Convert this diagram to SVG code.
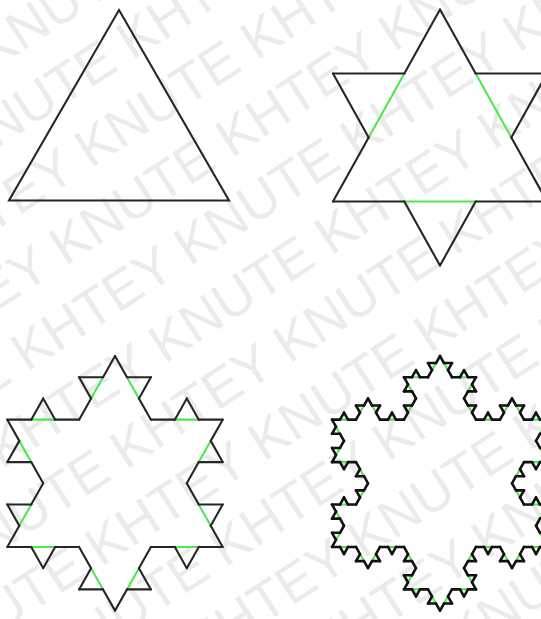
<svg xmlns="http://www.w3.org/2000/svg" xmlns:xlink="http://www.w3.org/1999/xlink" width="541" height="619" viewBox="0 0 541 619">
<style>
.wm{font-family:"Liberation Sans",Arial,sans-serif;font-size:54px;fill:#ebebeb;}
.blk{stroke:#262626;stroke-width:2.1;fill:none;stroke-linecap:round;vector-effect:non-scaling-stroke;}
.blk3{stroke:#121212;stroke-width:2.6;fill:none;stroke-linecap:round;vector-effect:non-scaling-stroke;}
.grn{stroke:#4de84d;stroke-width:2.1;fill:none;stroke-linecap:round;vector-effect:non-scaling-stroke;}
</style>
<defs>
<line id="k0" x1="0" y1="0" x2="1" y2="0" class="blk"/>
<line id="k0b" x1="0" y1="0" x2="1" y2="0" class="blk3"/>
<line id="g1" x1="0.3333333" y1="0" x2="0.6666667" y2="0" class="grn"/>
<g id="k1">
<use href="#k0" transform="scale(0.3333333)"/>
<use href="#k0" transform="translate(0.3333333,0) rotate(-60) scale(0.3333333)"/>
<use href="#k0" transform="translate(0.5,-0.2886751) rotate(60) scale(0.3333333)"/>
<use href="#k0" transform="translate(0.6666667,0) scale(0.3333333)"/>
</g>
<g id="k2">
<use href="#k1" transform="scale(0.3333333)"/>
<use href="#k1" transform="translate(0.3333333,0) rotate(-60) scale(0.3333333)"/>
<use href="#k1" transform="translate(0.5,-0.2886751) rotate(60) scale(0.3333333)"/>
<use href="#k1" transform="translate(0.6666667,0) scale(0.3333333)"/>
</g>
<g id="k1b">
<use href="#k0b" transform="scale(0.3333333)"/>
<use href="#k0b" transform="translate(0.3333333,0) rotate(-60) scale(0.3333333)"/>
<use href="#k0b" transform="translate(0.5,-0.2886751) rotate(60) scale(0.3333333)"/>
<use href="#k0b" transform="translate(0.6666667,0) scale(0.3333333)"/>
</g>
<g id="k2b">
<use href="#k1b" transform="scale(0.3333333)"/>
<use href="#k1b" transform="translate(0.3333333,0) rotate(-60) scale(0.3333333)"/>
<use href="#k1b" transform="translate(0.5,-0.2886751) rotate(60) scale(0.3333333)"/>
<use href="#k1b" transform="translate(0.6666667,0) scale(0.3333333)"/>
</g>
<g id="k3">
<use href="#k2b" transform="scale(0.3333333)"/>
<use href="#k2b" transform="translate(0.3333333,0) rotate(-60) scale(0.3333333)"/>
<use href="#k2b" transform="translate(0.5,-0.2886751) rotate(60) scale(0.3333333)"/>
<use href="#k2b" transform="translate(0.6666667,0) scale(0.3333333)"/>
</g>
<g id="g2">
<use href="#g1" transform="scale(0.3333333)"/>
<use href="#g1" transform="translate(0.3333333,0) rotate(-60) scale(0.3333333)"/>
<use href="#g1" transform="translate(0.5,-0.2886751) rotate(60) scale(0.3333333)"/>
<use href="#g1" transform="translate(0.6666667,0) scale(0.3333333)"/>
</g>
<g id="g3">
<use href="#g2" transform="scale(0.3333333)"/>
<use href="#g2" transform="translate(0.3333333,0) rotate(-60) scale(0.3333333)"/>
<use href="#g2" transform="translate(0.5,-0.2886751) rotate(60) scale(0.3333333)"/>
<use href="#g2" transform="translate(0.6666667,0) scale(0.3333333)"/>
</g>
</defs>
<rect width="541" height="619" fill="#ffffff"/>
<g id="watermark" transform="rotate(-33 270 310)">
<text class="wm" x="-330" y="-110">KNUTE KHTEY KNUTE KHTEY KNUTE KHTEY KNUTE</text>
<text class="wm" x="-420" y="-42">KHTEY KNUTE KHTEY KNUTE KHTEY KNUTE KHTEY</text>
<text class="wm" x="-300" y="26">KNUTE KHTEY KNUTE KHTEY KNUTE KHTEY KNUTE</text>
<text class="wm" x="-390" y="94">KHTEY KNUTE KHTEY KNUTE KHTEY KNUTE KHTEY</text>
<text class="wm" x="-270" y="162">KNUTE KHTEY KNUTE KHTEY KNUTE KHTEY KNUTE</text>
<text class="wm" x="-360" y="230">KHTEY KNUTE KHTEY KNUTE KHTEY KNUTE KHTEY</text>
<text class="wm" x="-240" y="298">KNUTE KHTEY KNUTE KHTEY KNUTE KHTEY KNUTE</text>
<text class="wm" x="-330" y="366">KHTEY KNUTE KHTEY KNUTE KHTEY KNUTE KHTEY</text>
<text class="wm" x="-210" y="434">KNUTE KHTEY KNUTE KHTEY KNUTE KHTEY KNUTE</text>
<text class="wm" x="-300" y="502">KHTEY KNUTE KHTEY KNUTE KHTEY KNUTE KHTEY</text>
<text class="wm" x="-180" y="570">KNUTE KHTEY KNUTE KHTEY KNUTE KHTEY KNUTE</text>
<text class="wm" x="-270" y="638">KHTEY KNUTE KHTEY KNUTE KHTEY KNUTE KHTEY</text>
<text class="wm" x="-150" y="706">KNUTE KHTEY KNUTE KHTEY KNUTE KHTEY KNUTE</text>
</g>
<g id="level0">
<polygon points="119,10 229,200.5 9,200.5" fill="none" stroke="#262626" stroke-width="2.1" stroke-linejoin="miter"/>
</g>
<g id="level1" transform="translate(333,9.5) scale(214,221.7)">
<use href="#g1" transform="translate(0.5,0) rotate(60)"/>
<use href="#g1" transform="translate(1,0.8660254) rotate(180)"/>
<use href="#g1" transform="translate(0,0.8660254) rotate(-60)"/>
<use href="#k1" transform="translate(0.5,0) rotate(60)"/>
<use href="#k1" transform="translate(1,0.8660254) rotate(180)"/>
<use href="#k1" transform="translate(0,0.8660254) rotate(-60)"/>
</g>
<g id="level2" transform="translate(7.3,356) scale(215.4,220.5)">
<use href="#g2" transform="translate(0.5,0) rotate(60)"/>
<use href="#g2" transform="translate(1,0.8660254) rotate(180)"/>
<use href="#g2" transform="translate(0,0.8660254) rotate(-60)"/>
<use href="#k2" transform="translate(0.5,0) rotate(60)"/>
<use href="#k2" transform="translate(1,0.8660254) rotate(180)"/>
<use href="#k2" transform="translate(0,0.8660254) rotate(-60)"/>
</g>
<g id="level3" transform="translate(332,356) scale(216,220.5)">
<use href="#g3" transform="translate(0.5,0) rotate(60)"/>
<use href="#g3" transform="translate(1,0.8660254) rotate(180)"/>
<use href="#g3" transform="translate(0,0.8660254) rotate(-60)"/>
<use href="#k3" transform="translate(0.5,0) rotate(60)"/>
<use href="#k3" transform="translate(1,0.8660254) rotate(180)"/>
<use href="#k3" transform="translate(0,0.8660254) rotate(-60)"/>
</g>
</svg>
